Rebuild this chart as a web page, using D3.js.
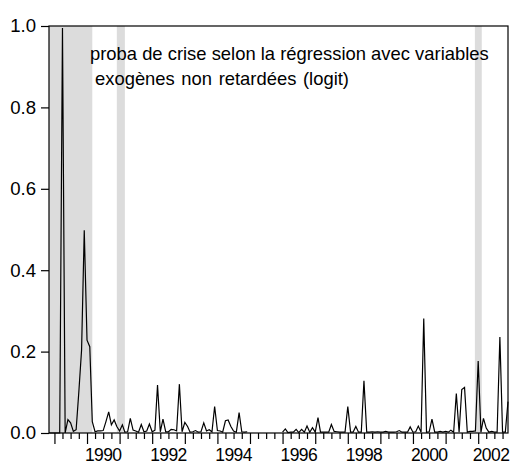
<!DOCTYPE html>
<html>
<head>
<meta charset="utf-8">
<script src="https://cdn.jsdelivr.net/npm/d3@7"></script>
<style>
  html, body { margin: 0; padding: 0; background: #fff; }
  svg { display: block; font-family: "Liberation Sans", Arial, sans-serif; }
</style>
</head>
<body>
<svg id="chart" width="511" height="465"></svg>
<script>
// ---- data ----
const firstMonth = "1988-11";          // first observation (monthly series)
const lastMonth = "2002-12";           // last observation
// probability of crisis, monthly, 1988M11 - 2002M12 (null = no observation, 1995)
const proba = [
  0.000, 0.000, 0.000, 0.000, 0.000, 0.995, 0.000, 0.033, 0.025, 0.004,
  0.008, 0.100, 0.204, 0.498, 0.228, 0.212, 0.028, 0.003, 0.005, 0.005,
  0.006, 0.028, 0.052, 0.020, 0.032, 0.016, 0.005, 0.020, 0.002, 0.003,
  0.036, 0.007, 0.005, 0.002, 0.021, 0.003, 0.005, 0.022, 0.003, 0.007,
  0.118, 0.003, 0.034, 0.003, 0.003, 0.009, 0.008, 0.005, 0.120, 0.003,
  0.026, 0.016, 0.002, 0.003, 0.006, 0.002, 0.003, 0.025, 0.005, 0.008,
  0.003, 0.065, 0.006, 0.005, 0.002, 0.030, 0.032, 0.016, 0.005, 0.002,
  0.050, 0.003, 0.002, 0.003,
  null, null, null, null, null, null, null, null, null, null, null, null,
  0.002, 0.010, 0.001, 0.002, 0.002, 0.009, 0.001, 0.009, 0.002, 0.017,
  0.002, 0.013, 0.002, 0.038, 0.002, 0.002, 0.002, 0.002, 0.021, 0.004,
  0.003, 0.002, 0.002, 0.002, 0.065, 0.002, 0.002, 0.016, 0.002, 0.002,
  0.128, 0.002, 0.002, 0.003, 0.002, 0.003, 0.002, 0.002, 0.004, 0.002,
  0.002, 0.002, 0.003, 0.006, 0.002, 0.002, 0.002, 0.015, 0.002, 0.003,
  0.017, 0.002, 0.281, 0.002, 0.003, 0.034, 0.002, 0.002, 0.004, 0.002,
  0.004, 0.002, 0.007, 0.002, 0.097, 0.002, 0.107, 0.112, 0.002, 0.004,
  0.004, 0.005, 0.177, 0.002, 0.036, 0.012, 0.002, 0.004, 0.002, 0.002,
  0.236, 0.002, 0.002, 0.077
];
// shaded crisis periods [start, end]
const crisisStart = ["1988-11-01", "1990-12-01", "2001-11-25"];
const crisisEnd   = ["1990-03-01", "1991-03-01", "2002-02-10"];
const yTicks = [0, 0.2, 0.4, 0.6, 0.8, 1.0];
const yearLabels = [1990, 1992, 1994, 1996, 1998, 2000, 2002];
const titleLines = ["proba de crise selon la régression avec variables",
                    "exogènes non retardées (logit)"];

// ---- layout ----
const L = 49, R = 508, T = 26, B = 433;
const parseM = d3.utcParse("%Y-%m");
const parseD = d3.utcParse("%Y-%m-%d");
const t0 = parseM(firstMonth), t1 = parseM(lastMonth);
const dates = proba.map((_, i) => d3.utcMonth.offset(t0, i));

const x = d3.scaleUtc().domain([t0, t1]).range([L, R]);
const y = d3.scaleLinear().domain([0, 1]).range([B, T]);

const svg = d3.select("#chart");

// shaded bands
svg.append("g").selectAll("rect")
  .data(crisisStart.map((s, i) => [parseD(s), parseD(crisisEnd[i])]))
  .join("rect")
  .attr("x", d => x(d[0]))
  .attr("width", d => x(d[1]) - x(d[0]))
  .attr("y", T)
  .attr("height", B - T)
  .attr("fill", "#dcdcdc");

// title
svg.append("g").selectAll("text")
  .data(titleLines)
  .join("text")
  .attr("x", (d, i) => i === 0 ? 90 : 95)
  .attr("y", (d, i) => 60 + i * 25)
  .attr("font-size", 18.4)
  .attr("word-spacing", (d, i) => i === 0 ? 0 : 1.5)
  .attr("fill", "#000")
  .text(d => d);

// series line
const line = d3.line()
  .defined(d => d[1] != null)
  .x(d => x(d[0]))
  .y(d => y(d[1]));
svg.append("path")
  .datum(dates.map((d, i) => [d, proba[i]]))
  .attr("d", line)
  .attr("fill", "none")
  .attr("stroke", "#000")
  .attr("stroke-width", 1.2)
  .attr("stroke-linejoin", "miter");

// frame
svg.append("rect")
  .attr("x", L).attr("y", T)
  .attr("width", R - L).attr("height", B - T)
  .attr("fill", "none").attr("stroke", "#000").attr("stroke-width", 1.2);

// y axis
const yAxis = svg.append("g")
  .attr("transform", `translate(${L},0)`)
  .call(d3.axisLeft(y).tickValues(yTicks).tickFormat(d3.format(".1f"))
        .tickSize(8).tickPadding(5));
yAxis.select(".domain").remove();
yAxis.selectAll("line").attr("stroke", "#000").attr("stroke-width", 1.2);
yAxis.selectAll("text").attr("font-size", 18.6).attr("fill", "#000")
  .attr("font-family", "'Liberation Sans', Arial, sans-serif");

// x axis: quarterly minor ticks, yearly major ticks
const quarters = d3.utcMonth.every(3).range(t0, d3.utcDay.offset(t1, 1))
  .filter(d => d.getUTCMonth() % 3 === 0);
const minor = quarters.filter(d => d.getUTCMonth() !== 0);
const major = quarters.filter(d => d.getUTCMonth() === 0);
const xMinor = svg.append("g").attr("transform", `translate(0,${B})`)
  .call(d3.axisBottom(x).tickValues(minor).tickSize(6).tickFormat(""));
const xMajor = svg.append("g").attr("transform", `translate(0,${B})`)
  .call(d3.axisBottom(x).tickValues(major).tickSize(11).tickFormat(""));
[xMinor, xMajor].forEach(g => {
  g.select(".domain").remove();
  g.selectAll("line").attr("stroke", "#000").attr("stroke-width", 1.2);
});

// year labels centred on the year interval
svg.append("g").selectAll("text")
  .data(yearLabels)
  .join("text")
  .attr("x", d => Math.min(x(new Date(Date.UTC(d, 6, 1))), 491))
  .attr("y", 461)
  .attr("text-anchor", "middle")
  .attr("font-size", 17.5)
  .attr("letter-spacing", -0.6)
  .attr("fill", "#000")
  .text(d => d);
</script>
</body>
</html>
